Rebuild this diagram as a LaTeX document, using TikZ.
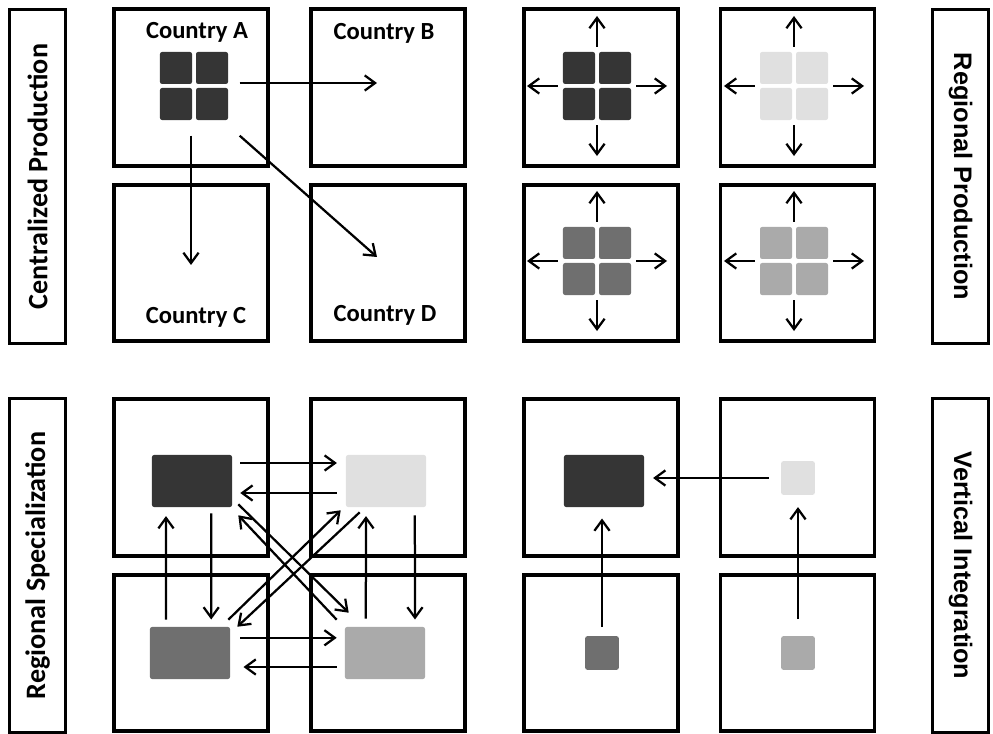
\documentclass[tikz,border=0pt]{standalone}
\usepackage{fontspec}
\setmainfont{Carlito}
\newfontfamily\modefont{Liberation Sans}
\usepackage{xcolor}
\usetikzlibrary{arrows.meta,positioning,calc}
\definecolor{tdark}{HTML}{353535}
\definecolor{tmid}{HTML}{6F6F6F}
\definecolor{tsoft}{HTML}{AAAAAA}
\definecolor{tlight}{HTML}{E0E0E0}
\tikzset{
  country/.style={rectangle,draw=black,line width=2.8pt,minimum width=3.85cm,
                  minimum height=3.92cm,inner sep=0pt},
  mode/.style={rectangle,draw=black,line width=2.1pt,minimum width=8.35cm,
               minimum height=1.42cm,inner sep=0pt},
  leftmode/.style={mode,rotate=90,font=\fontsize{20}{24}\selectfont\bfseries},
  rightmode/.style={mode,rotate=-90,font=\modefont\fontsize{18}{21}\selectfont\bfseries},
  cname/.style={inner sep=0pt,font=\fontsize{17.5}{21}\selectfont\bfseries},
  quad/.style={minimum size=1.72cm,inner sep=0pt,
               path picture={
                 \foreach \i in {-1,1} \foreach \j in {-1,1}
                   \fill[#1,rounded corners=1.5pt]
                     ([shift={(\i*0.45cm-0.4cm,\j*0.45cm-0.4cm)}]path picture bounding box.center)
                     rectangle ++(0.8cm,0.8cm);
               }},
  blk/.style={rectangle,fill=#1,rounded corners=1.5pt,minimum width=2cm,
              minimum height=1.3cm,inner sep=0pt},
  dot/.style={rectangle,fill=#1,rounded corners=1.5pt,minimum size=0.84cm,inner sep=0pt},
  link/.style={-{Straight Barb[length=2.6mm,width=3.8mm]},line width=1.6pt},
}

\begin{document}
\begin{tikzpicture}[x=0.025cm,y=-0.025cm]
\useasboundingbox (0,0) rectangle (993,734);
% side labels
\node[leftmode] (cen) at (37.5,176.5) {Centralized Production};
\node[leftmode] (spe) at (37.5,565.5) {Regional Specialization};
\node[rightmode] (reg) at (960.5,176.5) {Regional Production};
\node[rightmode] (ver) at (960.5,565.5) {Vertical Integration};

% the sixteen country boxes
\foreach \c/\x in {1/191,2/388,3/601,4/797.5}
  \foreach \r/\y in {1/87.5,2/263,3/477.5,4/653}
    \node[country] (b\r\c) at (\x,\y) {};

% centralized production
\node[cname] (lA) at (197,32) {Country A};
\node[cname] (lB) at (384,33) {Country B};
\node[cname] (lC) at (196,317) {Country C};
\node[cname] (lD) at (385,315) {Country D};
\node[quad=tdark] (cA) at (194,86) {};
\coordinate (toB) at (377,83);
\coordinate (toC) at (191,265);
\coordinate (toD) at (377,257);
\draw[link] ([shift={(11,-3)}]cA.east) -- (toB);
\draw[link] ([shift={(-3,15)}]cA.south) -- (toC);
\draw[link] ([shift={(11,15)}]cA.south east) -- (toD);

% regional production
\node[quad=tdark] (rA) at (597,86) {};
\node[quad=tlight] (rB) at (794,86) {};
\node[quad=tmid] (rC) at (597,261) {};
\node[quad=tsoft] (rD) at (794,261) {};
\foreach \g in {rA,rB,rC,rD}
  \foreach \a in {0,90,180,270}
    \draw[link,shorten <=0.98cm] (\g.center) -- ++(\a:1.75cm);

% regional specialization
\node[blk=tdark] (sA) at (192,481) {};
\node[blk=tlight] (sB) at (386,481) {};
\node[blk=tmid] (sC) at (190,653) {};
\node[blk=tsoft] (sD) at (385,653) {};
\draw[link,shorten <=0.2cm,shorten >=0.22cm] ([yshift=0.45cm]sA.east) -- ([yshift=0.45cm]sB.west);
\draw[link,shorten <=0.22cm,shorten >=0.2cm] ([yshift=-0.3cm]sB.west) -- ([yshift=-0.3cm]sA.east);
\draw[link,shorten <=0.25cm,shorten >=0.2cm] ([yshift=0.38cm]sC.east) -- ([yshift=0.38cm]sD.west);
\draw[link,shorten <=0.2cm,shorten >=0.33cm] ([yshift=-0.35cm]sD.west) -- ([yshift=-0.35cm]sC.east);
\draw[link,shorten <=0.18cm,shorten >=0.22cm] ([xshift=-0.6cm]sC.north) -- ([xshift=-0.65cm]sA.south);
\draw[link,shorten <=0.15cm,shorten >=0.18cm] ([xshift=0.48cm]sA.south) -- ([xshift=0.53cm]sC.north);
\draw[link,shorten <=0.2cm,shorten >=0.22cm] ([xshift=-0.48cm]sD.north) -- ([xshift=-0.5cm]sB.south);
\draw[link,shorten <=0.2cm,shorten >=0.18cm] ([xshift=0.72cm]sB.south) -- ([xshift=0.75cm]sD.north);
\draw[link] ($(sA.south east)+(6,-3)$) -- ($(sD.north west)+(4,-14)$);
\draw[link] ($(sD.north west)+(-8,-7)$) -- ($(sA.south east)+(6,8)$);
\draw[link] ($(sC.north east)+(-2,-7)$) -- ($(sB.south west)+(-5,3)$);
\draw[link] ($(sB.south west)+(14,5)$) -- ($(sC.north east)+(7,0)$);

% vertical integration
\node[blk=tdark] (vA) at (604,481) {};
\node[dot=tlight] (vB) at (798,478) {};
\node[dot=tmid] (vC) at (602,653) {};
\node[dot=tsoft] (vD) at (798,653) {};
\draw[link,shorten <=0.3cm,shorten >=0.22cm] (vB.west) -- (vB.west -| vA.east);
\draw[link,shorten <=0.22cm,shorten >=0.28cm] (vC.north) -- (vC.north |- vA.south);
\draw[link,shorten <=0.42cm,shorten >=0.3cm] (vD.north) -- (vD.north |- vB.south);
\end{tikzpicture}
\end{document}
